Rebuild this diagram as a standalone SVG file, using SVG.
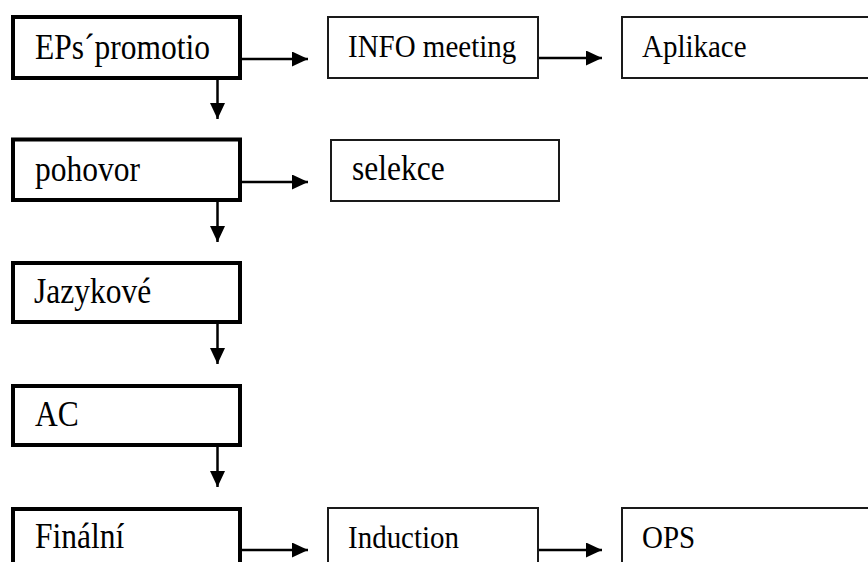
<svg xmlns="http://www.w3.org/2000/svg" width="868" height="562" viewBox="0 0 868 562">
<defs>
<style>
.thick{fill:#fff;stroke:#000;stroke-width:4}
.thin{fill:#fff;stroke:#1a1a1a;stroke-width:2}
.c{stroke:#000;stroke-width:2.5;fill:none;marker-end:url(#ah)}
</style>
<marker id="ah" viewBox="0 0 16 15" refX="16" refY="7.5" markerWidth="16" markerHeight="15" markerUnits="userSpaceOnUse" orient="auto">
<path d="M0,0 L16,7.5 L0,15 Z" fill="#000"/>
</marker>
</defs>
<rect width="868" height="562" fill="#fff"/>
<g id="connectors">
<line class="c" x1="242" y1="59" x2="308" y2="59"/>
<line class="c" x1="538" y1="58" x2="602" y2="58"/>
<line class="c" x1="217.5" y1="80" x2="217.5" y2="119"/>
<line class="c" x1="242" y1="182" x2="308" y2="182"/>
<line class="c" x1="217.5" y1="202" x2="217.5" y2="242"/>
<line class="c" x1="217.5" y1="324" x2="217.5" y2="364"/>
<line class="c" x1="217.5" y1="447" x2="217.5" y2="487"/>
<line class="c" x1="242" y1="550" x2="308" y2="550"/>
<line class="c" x1="538" y1="550" x2="602" y2="550"/>
</g>
<g fill="#000" font-family="Liberation Serif, serif">
<g id="n-eps"><rect class="thick" x="13" y="17" width="227" height="61"/><text font-size="31.5" transform="translate(35,59) scale(1,1.12)">EPs´promotio</text></g>
<g id="n-info"><rect class="thin" x="328" y="17" width="210" height="61"/><text font-size="29" transform="translate(348,57) scale(1,1.12)">INFO meeting</text></g>
<g id="n-aplikace"><rect class="thin" x="622" y="17" width="260" height="61"/><text font-size="29" transform="translate(642,57) scale(1,1.12)">Aplikace</text></g>
<g id="n-pohovor"><rect class="thick" x="13" y="139.5" width="227" height="60.5"/><text font-size="31.5" transform="translate(35,181) scale(1,1.12)">pohovor</text></g>
<g id="n-selekce"><rect class="thin" x="331" y="140" width="228" height="61"/><text font-size="31.5" transform="translate(352,180) scale(1,1.12)">selekce</text></g>
<g id="n-jazykove"><rect class="thick" x="13" y="263" width="227" height="59"/><text font-size="31.5" transform="translate(34,303) scale(1,1.12)">Jazykové</text></g>
<g id="n-ac"><rect class="thick" x="13" y="386" width="227" height="59"/><text font-size="31.5" transform="translate(35,426) scale(1,1.12)">AC</text></g>
<g id="n-finalni"><rect class="thick" x="13" y="509" width="227" height="80"/><text font-size="31.5" transform="translate(35,548) scale(1,1.12)">Finální</text></g>
<g id="n-induction"><rect class="thin" x="328" y="508" width="210" height="80"/><text font-size="29" transform="translate(348,548) scale(1,1.12)">Induction</text></g>
<g id="n-ops"><rect class="thin" x="622" y="508" width="260" height="80"/><text font-size="29" transform="translate(642,548) scale(1,1.12)">OPS</text></g>
</g>
</svg>
